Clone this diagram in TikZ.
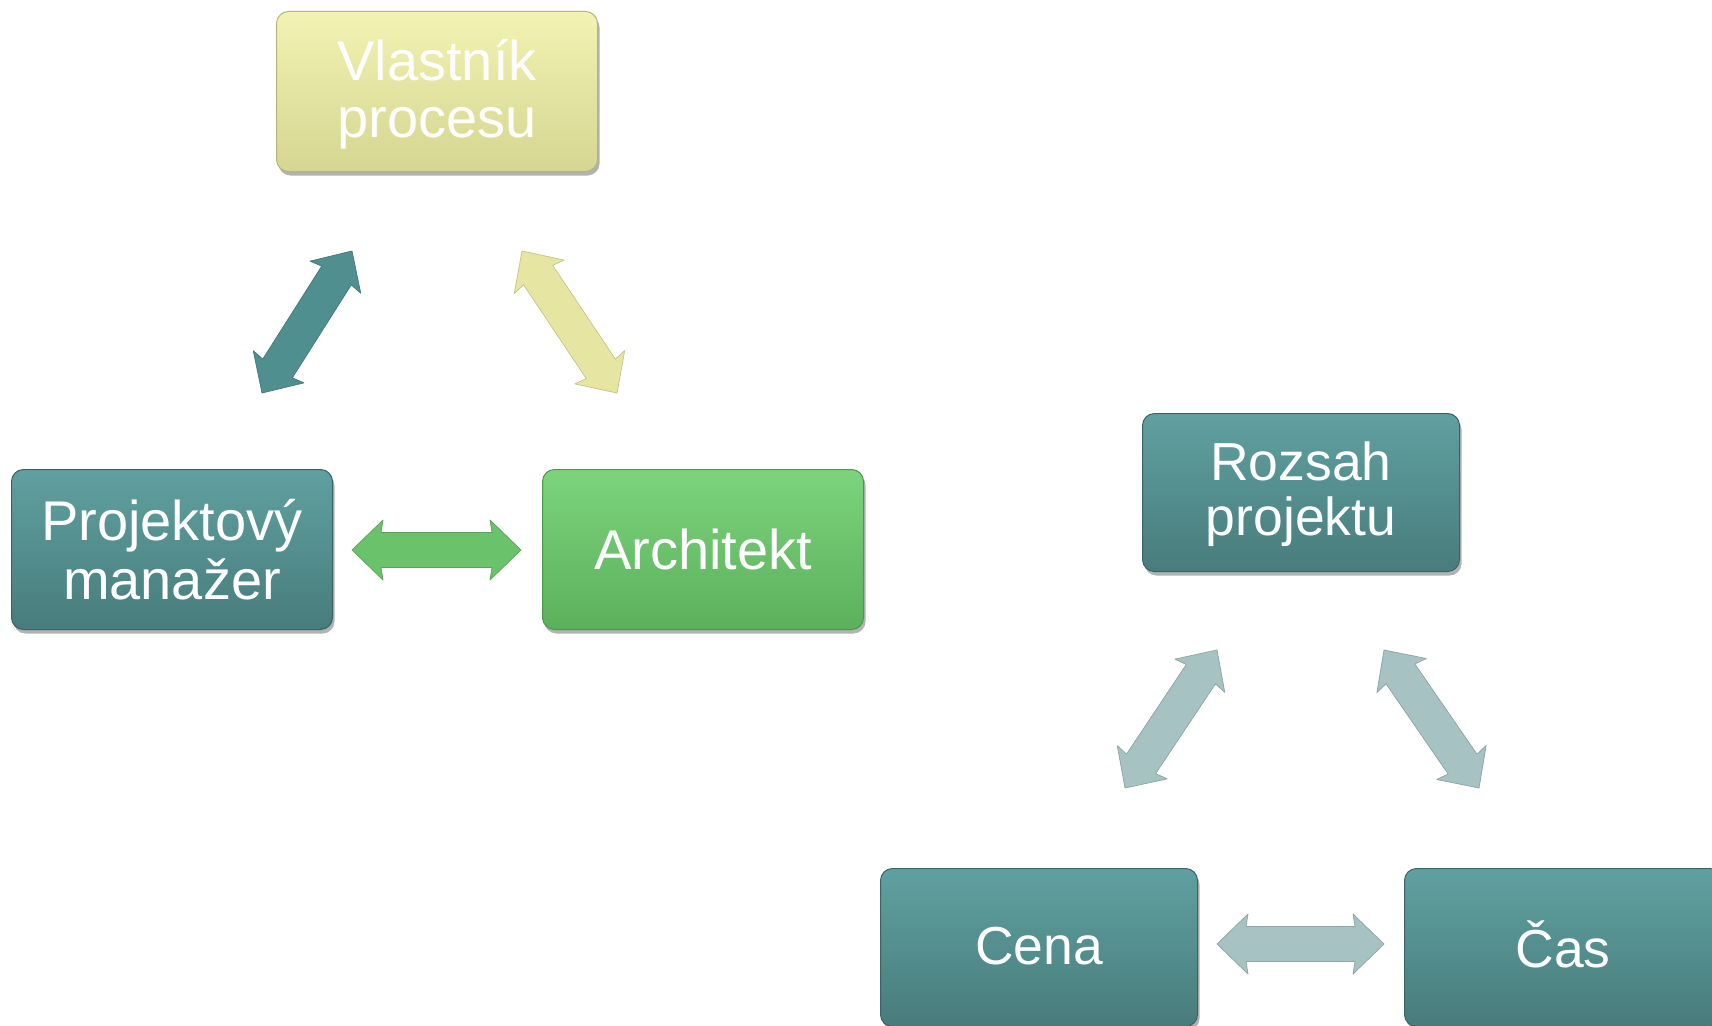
\documentclass[tikz,border=0pt]{standalone}
\usepackage{fontspec}
\setmainfont{Liberation Sans}
\usetikzlibrary{calc,shadows}
\definecolor{tealtop}{RGB}{96,160,160}
\definecolor{tealbot}{RGB}{72,124,124}
\definecolor{yeltop}{RGB}{242,242,178}
\definecolor{yelbot}{RGB}{214,214,146}
\definecolor{grntop}{RGB}{124,212,124}
\definecolor{grnbot}{RGB}{92,176,92}
\definecolor{tealarrow}{RGB}{80,143,143}
\definecolor{yelarrow}{RGB}{230,230,162}
\definecolor{grnarrow}{RGB}{106,194,106}
\definecolor{greyarrow}{RGB}{166,194,194}
\newcommand\arrowpath[2]{%
  (#1) -- ($(#1)!31pt!(#2)!30pt!90:(#2)$) -- ($(#1)!29pt!(#2)!17.5pt!90:(#2)$)
    -- ($(#2)!29pt!(#1)!17.5pt!-90:(#1)$) -- ($(#2)!31pt!(#1)!30pt!-90:(#1)$) -- (#2)
    -- ($(#2)!31pt!(#1)!30pt!90:(#1)$) -- ($(#2)!29pt!(#1)!17.5pt!90:(#1)$)
    -- ($(#1)!29pt!(#2)!17.5pt!-90:(#2)$) -- ($(#1)!31pt!(#2)!30pt!-90:(#2)$) -- cycle}
\newcommand\blockarrow[3]{%
  \fill[black,opacity=.16,shift={(2pt,-4pt)}] \arrowpath{#2}{#3};
  \fill[#1] \arrowpath{#2}{#3};
  \draw[#1!85!black,line width=.7pt,line join=round] \arrowpath{#2}{#3};
}
\newcommand\lstrut{\rule[-5.5pt]{0pt}{51.5pt}}
\newcommand\sstrut{\rule[-6.75pt]{0pt}{48.25pt}}
\tikzset{
  box/.style={rectangle, rounded corners=12pt, minimum width=321pt, minimum height=160pt,
    inner sep=0pt, align=center, text=white, font=\fontsize{56}{57}\selectfont,
    anchor=north west, drop shadow={shadow xshift=2pt, shadow yshift=-4pt, opacity=.3, fill=black}},
  smallbox/.style={minimum width=317pt, minimum height=158pt, font=\fontsize{53.5}{55}\selectfont},
  tealbox/.style={box, top color=tealtop, bottom color=tealbot, draw=tealbot!80!black, line width=1pt},
  yelbox/.style={box, top color=yeltop, bottom color=yelbot, draw=yelbot!85!black, line width=1pt},
  grnbox/.style={box, top color=grntop, bottom color=grnbot, draw=grnbot!85!black, line width=1pt},
}
\begin{document}
\begin{tikzpicture}[x=1pt,y=-1pt]
\useasboundingbox (0,0) rectangle (1712,1025);
\fill[white] (0,0) rectangle (1712,1025);
% left group
\node[yelbox] (vl) at (276,11) {\lstrut Vlastník\\\lstrut procesu};
\node[tealbox] (pm) at (11,469) {\lstrut Projektový\\\lstrut manažer};
\node[grnbox] (ar) at (542,469) {\lstrut Architekt};
\coordinate (l1a) at (262,393); \coordinate (l1b) at (352,251);
\coordinate (l2a) at (522,251); \coordinate (l2b) at (617,393);
\coordinate (l3a) at (352,550); \coordinate (l3b) at (521,550);
\blockarrow{tealarrow}{l1a}{l1b}
\blockarrow{yelarrow}{l2a}{l2b}
\blockarrow{grnarrow}{l3a}{l3b}
% right group
\node[tealbox, smallbox] (rp) at (1142,413) {\sstrut Rozsah\\\sstrut projektu};
\node[tealbox, smallbox] (ce) at (880,868) {\sstrut Cena};
\node[tealbox, smallbox] (ca) at (1404,868) {\sstrut Čas};
\coordinate (r1a) at (1125,788); \coordinate (r1b) at (1217,650);
\coordinate (r2a) at (1384,650); \coordinate (r2b) at (1479,788);
\coordinate (r3a) at (1217,944); \coordinate (r3b) at (1384,944);
\blockarrow{greyarrow}{r1a}{r1b}
\blockarrow{greyarrow}{r2a}{r2b}
\blockarrow{greyarrow}{r3a}{r3b}
\end{tikzpicture}
\end{document}
